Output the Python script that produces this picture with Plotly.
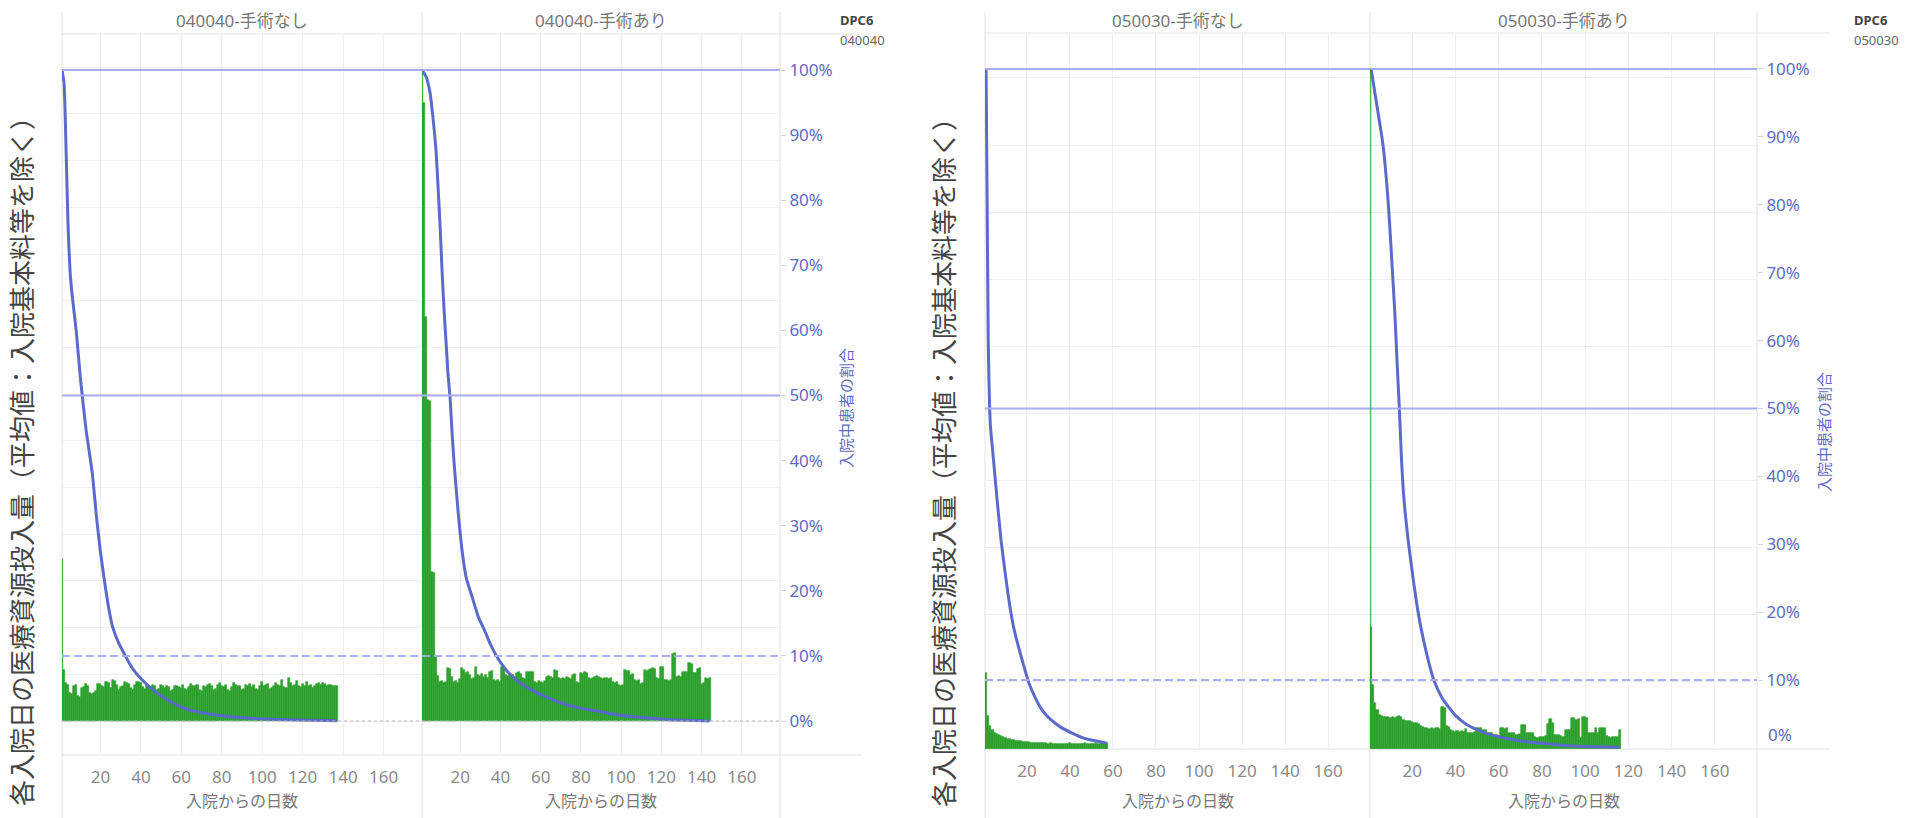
import plotly.graph_objects as go

W, H = 1923, 818

# ---------------- data ----------------
panel_titles = ["040040-手術なし", "040040-手術あり", "050030-手術なし", "050030-手術あり"]
dpc_codes = ["040040", "050030"]
x_title = "入院からの日数"
bar_title = "各入院日の医療資源投入量（平均値：入院基本料等を除く）"
pct_title = "入院中患者の割合"
x_tick_vals = [20, 40, 60, 80, 100, 120, 140, 160]
pct_tick_vals = [0, 10, 20, 30, 40, 50, 60, 70, 80, 90, 100]

# mean resource input per hospital day (points)
res_040040_nashi = [
    17300, 5500, 4100, 3900, 3000, 2900, 3800, 3900, 2700, 2600,
    3500, 3600, 4000, 3700, 3000, 2900, 3000, 3200, 4000, 4000,
    3700, 3600, 4200, 4100, 3500, 4400, 4300, 3900, 3300, 3600,
    3800, 4200, 4100, 4000, 3500, 3300, 3900, 4200, 4200, 4100,
    3600, 3400, 3700, 3700, 3600, 3900, 3800, 3300, 3400, 3900,
    3700, 3500, 3800, 3600, 3200, 3300, 3700, 3800, 3600, 3500,
    3900, 3400, 3300, 3600, 4000, 3800, 3700, 3900, 3300, 3200,
    3800, 3600, 3900, 4000, 3700, 3300, 3400, 3900, 4100, 3800,
    3600, 3900, 3300, 3200, 3600, 4100, 3900, 3700, 3800, 3300,
    3400, 3900, 3800, 4000, 3600, 3900, 3400, 3300, 3800, 4200,
    3700, 3900, 4000, 3400, 3500, 3800, 4100, 3900, 3700, 4400,
    3600, 3500, 4600, 4100, 3800, 3900, 4300, 3700, 3600, 4000,
    3800, 4200, 3700, 3900, 3500, 3700, 4000, 4100, 3900, 4100,
    4000, 3700, 3900, 3900, 3800, 3800, 3700,
]
res_040040_ari = [
    69700, 66200, 43300, 34400, 34300, 16000, 15900, 7000, 4800, 4200,
    4300, 4100, 4200, 5700, 5600, 4700, 4200, 4300, 4100, 4500,
    5700, 5500, 5100, 5200, 4900, 4500, 4600, 5800, 4900, 4800,
    5000, 4700, 4900, 4600, 5300, 5400, 4400, 4300, 4400, 4200,
    5800, 5700, 4900, 4800, 5000, 4900, 4700, 5100, 5200, 5000,
    4600, 4500, 5300, 5200, 5300, 5200, 4200, 4100, 4300, 4200,
    4100, 4300, 4700, 4800, 4700, 4600, 5500, 5400, 4600, 4500,
    4600, 4500, 4700, 4600, 4500, 4900, 5000, 4200, 4100, 5100,
    5000, 5200, 5100, 4600, 4500, 4600, 4700, 4800, 4700, 4600,
    4500, 4600, 4600, 4500, 4600, 4200, 4100, 4200, 3900, 3800,
    3900, 5500, 5400, 5400, 4900, 5000, 4400, 4300, 4400, 4000,
    4100, 5500, 5400, 5500, 5600, 5700, 5600, 4600, 4500, 5800,
    5800, 4400, 4400, 4300, 4400, 7200, 7300, 4700, 4800, 4700,
    5300, 5200, 5300, 6200, 6100, 5100, 5100, 5600, 5700, 4000,
    4100, 4600, 4500, 4600,
]
res_050030_nashi = [
    2260, 980, 680, 580, 480, 450, 420, 390, 360, 330,
    300, 290, 270, 260, 250, 240, 230, 220, 215, 205,
    200, 190, 185, 190, 180, 175, 170, 175, 165, 160,
    165, 160, 155, 150, 160, 155, 150, 155, 160, 165,
    155, 150, 150, 160, 155, 160, 165, 155, 150, 160,
    155, 165, 160, 155, 170, 175, 180,
]
res_050030_ari = [
    3650, 1920, 1370, 1170, 1020, 970, 955, 940, 950, 935,
    940, 925, 950, 975, 945, 860, 830, 820, 835, 790,
    770, 780, 760, 690, 650, 620, 640, 610, 630, 600,
    640, 620, 600, 1240, 1230, 690, 670, 560, 530, 520,
    540, 510, 530, 520, 600, 480, 470, 480, 520, 630,
    620, 630, 580, 570, 480, 470, 480, 400, 410, 390,
    620, 630, 610, 620, 480, 470, 480, 430, 420, 440,
    720, 730, 480, 470, 480, 470, 350, 340, 350, 360,
    345, 400, 760, 880, 770, 430, 420, 430, 380, 370,
    570, 580, 570, 920, 930, 870, 880, 330, 940, 950,
    930, 480, 470, 480, 620, 470, 620, 630, 620, 400,
    350, 340, 350, 345, 350, 580,
]

# share of patients still hospitalised (%), read at selected days
surv_040040_nashi_day = [1, 2, 3, 4, 5, 6, 8, 10, 11, 13, 16, 18, 20, 22, 24, 26, 29, 32, 35, 38,
                         43, 48, 52, 61, 70, 78, 96, 114, 137]
surv_040040_nashi_pct = [100, 98, 88, 76, 69, 65.5, 60, 53, 50, 44.5, 38, 31.5, 26, 21.5, 17.5, 14.5, 12, 10.2, 8.5, 7.2,
                         5.6, 4.3, 3.5, 2.0, 1.3, 0.9, 0.4, 0.2, 0.05]
surv_040040_ari_day = [1, 3, 5, 7, 8, 9, 10, 11, 12, 13, 14, 15, 16, 17, 19, 21, 23, 26, 29, 32,
                       35, 38, 41, 45, 50, 56, 64, 73, 81, 89, 97, 105, 114, 122, 133, 144]
surv_040040_ari_pct = [100, 99, 96.5, 91, 87.5, 82, 76, 69, 63, 58, 53, 49.5, 44, 39.5, 32, 26, 22, 19, 16, 14,
                       11.8, 10, 8.6, 7.1, 5.8, 4.7, 3.5, 2.5, 1.9, 1.5, 1.0, 0.7, 0.45, 0.25, 0.1, 0.0]
surv_050030_nashi_day = [1, 2, 3, 4, 6, 8, 10, 12, 14, 16, 18, 21, 24, 27, 31, 36, 41, 46, 51, 55, 57]
surv_050030_nashi_pct = [100, 60, 47.5, 44, 37, 30.5, 25.5, 21, 17.5, 15, 12.7, 9.5, 7.3, 5.6, 4.2, 3.0, 2.2, 1.5, 1.1, 0.85, 0.75]
surv_050030_ari_day = [1, 2, 4, 6, 7, 8, 9, 10, 11, 12, 13, 14, 15, 16, 18, 20, 22, 24, 27, 30,
                       34, 40, 45, 50, 57, 64, 72, 80, 88, 95, 105, 116]
surv_050030_ari_pct = [100, 98, 94, 90, 87.5, 84, 80, 75, 69.5, 64, 57, 50.5, 43, 37.5, 31, 26, 21.5, 17.8, 13.5, 10,
                       7.3, 4.8, 3.5, 2.7, 1.9, 1.4, 0.95, 0.7, 0.45, 0.3, 0.18, 0.1]

bar_series = [res_040040_nashi, res_040040_ari, res_050030_nashi, res_050030_ari]
curve_series = [
    (surv_040040_nashi_day, surv_040040_nashi_pct),
    (surv_040040_ari_day, surv_040040_ari_pct),
    (surv_050030_nashi_day, surv_050030_nashi_pct),
    (surv_050030_ari_day, surv_050030_ari_pct),
]

# ---------------- styling / layout ----------------
GREEN = "#2ca02c"
BLUE = "#5a6bcb"
REF = "#a9acf2"
GRID = "#efefef"
SEP = "#e2e2e2"
FONT = "Noto Sans, Noto Sans CJK JP, sans-serif"


def fx(px):
    return px / W


def fy(py):
    return 1 - py / H


# panel pixel boxes: (left, right, top, bottom)
panels = [
    (62, 422, 34, 755),
    (422, 780, 34, 755),
    (985, 1370, 33, 749),
    (1370, 1757, 33, 749),
]
x_ranges = [[1, 179], [1, 179], [0.5, 179.5], [0.5, 179.5]]
bar_ranges = [[-3640, 73557], [-3640, 73557], [0, 21340], [0, 21340]]
bar_dticks = [5000, 5000, 2000, 2000]
pct_ranges = [[-5.22, 105.53], [-5.22, 105.53], [-0.15, 105.3], [-0.15, 105.3]]

fig = go.Figure()

for i in range(4):
    n = i + 1
    xa = "x" if n == 1 else f"x{n}"
    ya = "y" if n == 1 else f"y{n}"
    yp = f"y{n + 4}"
    vals = bar_series[i]
    days = list(range(1, len(vals) + 1))
    fig.add_trace(go.Bar(
        x=days, y=vals, width=1, xaxis=xa, yaxis=ya,
        marker=dict(color=GREEN, line=dict(color=GREEN, width=0.6)),
        showlegend=False, hoverinfo="skip",
    ))
    cd, cp = curve_series[i]
    fig.add_trace(go.Scatter(
        x=cd, y=cp, mode="lines", xaxis=xa, yaxis=yp,
        line=dict(color=BLUE, width=3, shape="spline", smoothing=0.5),
        showlegend=False, hoverinfo="skip",
    ))

layout = dict(
    width=W, height=H, autosize=False,
    margin=dict(l=0, r=0, t=0, b=0),
    paper_bgcolor="white", plot_bgcolor="white",
    bargap=0, barmode="overlay",
    font=dict(family=FONT, color="#777777"),
    showlegend=False,
)

for i in range(4):
    n = i + 1
    l, r, t, b = panels[i]
    xkey = "xaxis" if n == 1 else f"xaxis{n}"
    ykey = "yaxis" if n == 1 else f"yaxis{n}"
    layout[xkey] = dict(
        domain=[fx(l), fx(r)], range=x_ranges[i], anchor="y" if n == 1 else f"y{n}",
        tickvals=x_tick_vals, showgrid=True, gridcolor=GRID, gridwidth=1,
        zeroline=False, showline=False,
        ticks="outside", ticklen=7, tickcolor="rgba(0,0,0,0)",
        tickfont=dict(size=17, color="#8a8a8a"),
    )
    layout[ykey] = dict(
        domain=[fy(b), fy(t)], range=bar_ranges[i], anchor="x" if n == 1 else f"x{n}",
        tick0=0, dtick=bar_dticks[i], showgrid=True, gridcolor=GRID, gridwidth=1,
        zeroline=False, showticklabels=False, showline=False, ticks="",
    )
    show_lbl = n in (2, 4)
    pkey = f"yaxis{n + 4}"
    tv = pct_tick_vals if n == 2 else pct_tick_vals[1:]
    layout[pkey] = dict(
        overlaying="y" if n == 1 else f"y{n}", anchor="x" if n == 1 else f"x{n}",
        side="right", range=pct_ranges[i], showgrid=False, zeroline=False,
        showline=False, showticklabels=show_lbl,
        tickvals=tv if show_lbl else [], ticktext=[f"{v}%" for v in tv] if show_lbl else [],
        ticks="outside" if show_lbl else "", ticklen=5, tickcolor="#d6d6d6",
        tickfont=dict(size=17, color="#5d6bc4"),
    )

fig.update_layout(**layout)

shapes = []
# reference lines at 100% / 50% (solid) and 10% (dashed)
for i in range(4):
    n = i + 1
    xd = "x domain" if n == 1 else f"x{n} domain"
    yp = f"y{n + 4}"
    for v, dash in ((100, "solid"), (50, "solid"), (10, "8px,4px")):
        shapes.append(dict(type="line", xref=xd, yref=yp, x0=0, x1=1, y0=v, y1=v,
                           line=dict(color=REF, width=2, dash=dash), layer="above"))
# dotted zero line for the left group
for n in (1, 2):
    xd = "x domain" if n == 1 else f"x{n} domain"
    ya = "y" if n == 1 else f"y{n}"
    shapes.append(dict(type="line", xref=xd, yref=ya, x0=0, x1=1, y0=0, y1=0,
                       line=dict(color="#b5b5b5", width=1, dash="dot"), layer="above"))
# thin green edge line in panel 4
shapes.append(dict(type="line", xref="x4 domain", yref="y8", x0=0.002, x1=0.002, y0=0, y1=100,
                   line=dict(color=GREEN, width=1), layer="above"))
# panel separators
for px in (62, 422, 780, 985, 1370, 1757):
    shapes.append(dict(type="line", xref="paper", yref="paper", x0=fx(px), x1=fx(px),
                       y0=0, y1=fy(12), line=dict(color=SEP, width=1), layer="below"))
# header and axis lines
for (x0, x1, ytop, ybot) in ((62, 862, 34, 755), (985, 1830, 33, 749)):
    for yy in (ytop, ybot):
        shapes.append(dict(type="line", xref="paper", yref="paper", x0=fx(x0), x1=fx(x1),
                           y0=fy(yy), y1=fy(yy), line=dict(color=SEP, width=1), layer="below"))

annotations = []
for i in range(4):
    l, r, t, b = panels[i]
    cx = fx((l + r) / 2)
    annotations.append(dict(text=panel_titles[i], xref="paper", yref="paper", x=cx, y=fy(20),
                            showarrow=False, xanchor="center", yanchor="middle",
                            font=dict(size=17, color="#777777")))
    annotations.append(dict(text=x_title, xref="paper", yref="paper", x=cx, y=fy(801),
                            showarrow=False, xanchor="center", yanchor="middle",
                            font=dict(size=16, color="#777777")))

for bx, by in ((22, 455), (944, 456)):
    annotations.append(dict(text=bar_title, xref="paper", yref="paper", x=fx(bx), y=fy(by),
                            showarrow=False, textangle=-90, xanchor="center", yanchor="middle",
                            font=dict(size=26, color="#444444")))
for px_, py_ in ((846, 408), (1824, 432)):
    annotations.append(dict(text=pct_title, xref="paper", yref="paper", x=fx(px_), y=fy(py_),
                            showarrow=False, textangle=-90, xanchor="center", yanchor="middle",
                            font=dict(size=15, color="#5d6bc4")))
for (dx, code) in ((838, dpc_codes[0]), (1852, dpc_codes[1])):
    annotations.append(dict(text="<b>DPC6</b>", xref="paper", yref="paper", x=fx(dx), y=fy(20),
                            showarrow=False, xanchor="left", yanchor="middle",
                            font=dict(size=13, color="#444444")))
    annotations.append(dict(text=code, xref="paper", yref="paper", x=fx(dx), y=fy(40),
                            showarrow=False, xanchor="left", yanchor="middle",
                            font=dict(size=13, color="#666666")))
# 0% label of the right group sits just above the baseline
annotations.append(dict(text="0%", xref="paper", yref="y8", x=fx(1766), y=0, yshift=13,
                        showarrow=False, xanchor="left", yanchor="middle",
                        font=dict(size=17, color="#5d6bc4")))

fig.update_layout(shapes=shapes, annotations=annotations)

fig.write_html("out.html", config={"displayModeBar": False},
               post_script="document.body.style.margin='0px';")
